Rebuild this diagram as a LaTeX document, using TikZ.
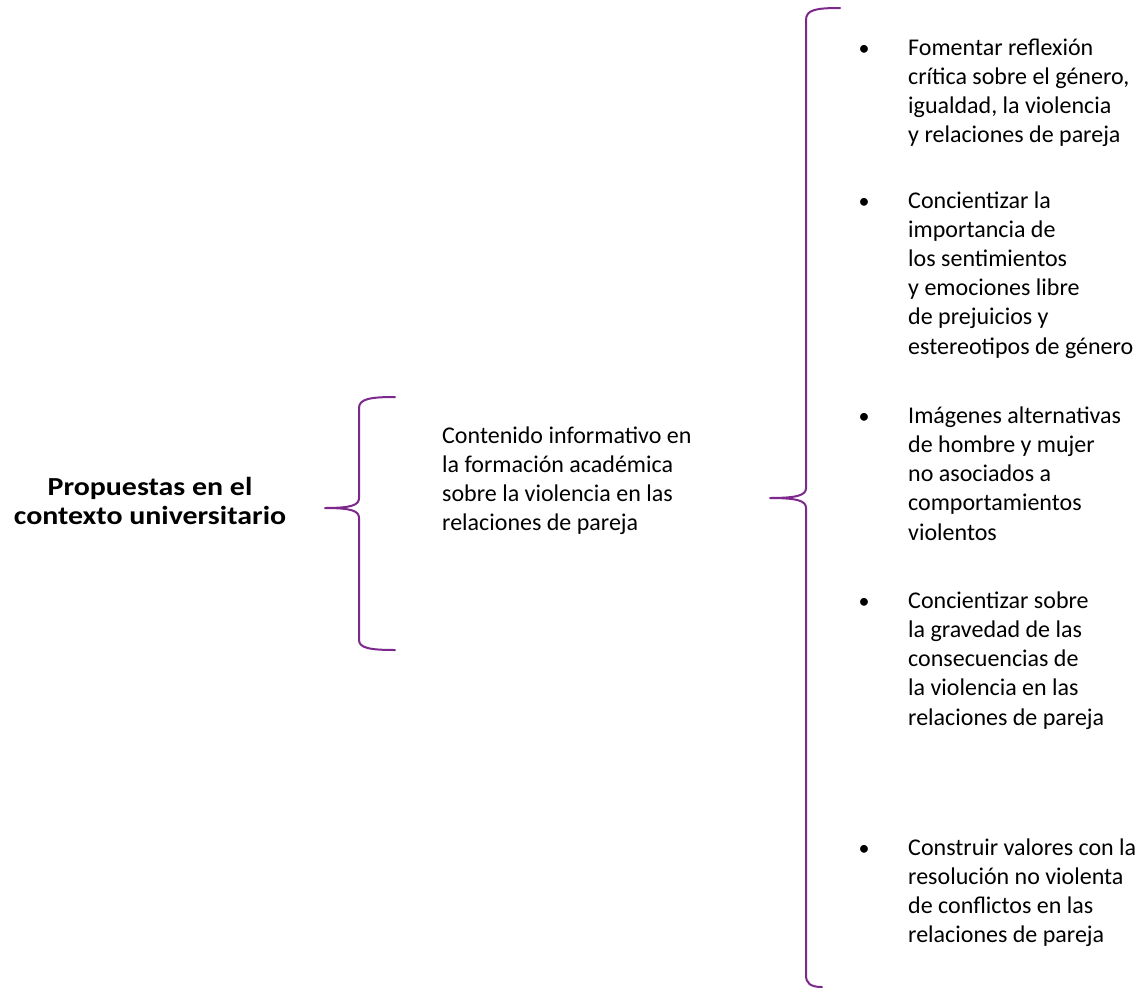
\documentclass[tikz,border=0pt]{standalone}
\usepackage{fontspec}
\setmainfont{Carlito}
\newfontfamily\titlefont[FakeStretch=1.15]{Carlito}
\definecolor{bracecol}{RGB}{125,40,140}
\tikzset{
  bracepath/.style={draw=bracecol, line width=2pt, line cap=round, line join=round},
  txt/.style={inner sep=0pt, anchor=base west, align=left, font=\fontsize{24}{29.2}\selectfont},
  bul/.style={inner sep=0pt, anchor=base, font=\fontsize{22}{29.2}\selectfont},
  title/.style={inner sep=0pt, align=center, font=\titlefont\bfseries\fontsize{26}{29}\selectfont}
}
\begin{document}
\begin{tikzpicture}[x=1pt,y=-1pt]
\fill[white] (0,0) rectangle (1142,988);
\useasboundingbox (0,0) rectangle (1142,988);

% title
\node[title] (title) at (150,501) {Propuestas en el\\contexto universitario};

% left brace
\coordinate (lbtip) at (325,508);
\coordinate (lbtop) at (395,397);
\coordinate (lbbot) at (395,650);
\draw[bracepath] (lbtop) .. controls (370,397) and (359,399) .. (359,408)
  -- (359,498) .. controls (359,505) and (352,508) .. (lbtip)
  .. controls (352,508) and (359,511) .. (359,518)
  -- (359,640) .. controls (359,648) and (370,650) .. (lbbot);

% middle text (anchored at the baseline of its last line)
\node[txt] (mid) at (442,530.6) {Contenido informativo en\\la formación académica\\sobre la violencia en las\\relaciones de pareja};

% big brace
\coordinate (bbtip) at (770,498);
\coordinate (bbtop) at (840,8);
\coordinate (bbbot) at (822,987);
\draw[bracepath] (bbtop) .. controls (815,8) and (806,10) .. (806,20)
  -- (806,488) .. controls (806,495) and (798,498) .. (bbtip)
  .. controls (798,498) and (806,501) .. (806,508)
  -- (806,975) .. controls (806,983) and (810,987) .. (bbbot);

% items (anchored at the baseline of their last line)
\node[bul] (b1) at (864,55) {•};
\node[txt] (i1) at (908,142.6) {Fomentar reflexión\\crítica sobre el género,\\igualdad, la violencia\\y relaciones de pareja};
\node[bul] (b2) at (864,208) {•};
\node[txt] (i2) at (908,354) {Concientizar la\\importancia de\\los sentimientos\\y emociones libre\\de prejuicios y\\estereotipos de género};
\node[bul] (b3) at (864,423) {•};
\node[txt] (i3) at (908,540) {Imágenes alternativas\\de hombre y mujer\\no asociados a\\comportamientos\\violentos};
\node[bul] (b4) at (864,608) {•};
\node[txt] (i4) at (908,725) {Concientizar sobre\\la gravedad de las\\consecuencias de\\la violencia en las\\relaciones de pareja};
\node[bul] (b5) at (864,855) {•};
\node[txt] (i5) at (908,942.6) {Construir valores con la\\resolución no violenta\\de conflictos en las\\relaciones de pareja};
\end{tikzpicture}
\end{document}
